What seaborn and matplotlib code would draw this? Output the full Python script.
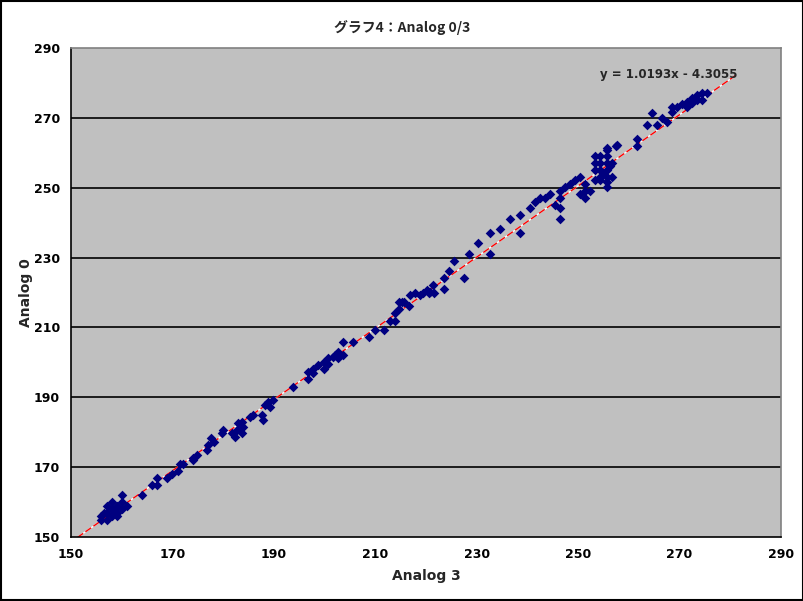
import numpy as np
import pandas as pd
import matplotlib
matplotlib.use("Agg")
import matplotlib.pyplot as plt
import seaborn as sns
from matplotlib.patches import Rectangle

analog3 = [
    156, 156, 157, 157, 158, 157, 158, 159, 159, 160, 160, 161, 160, 158, 159, 156.5, 158.5,
    164, 166, 167, 167, 169, 170, 171, 171.5, 172, 174, 174.1, 174.8,
    176.8, 177.1, 177.7, 178.1, 179.7, 180, 181.7, 182.3, 182.7, 183, 183.7, 183.7, 184, 185.3, 185.9, 187.6, 187.9, 188.3, 188.9, 189.2, 189.9,
    193.8, 196.8, 196.8, 197.8, 197.8, 198.8, 199.8, 199.8, 200.7, 200.7, 201.7, 202.7, 202.7, 203.7, 203.7, 205.7, 202.1, 208.8, 209.9, 211.8, 212.9, 213.9,
    213.9, 214.7, 214.7, 215.7, 216.7, 216.8, 217.8, 218.8, 220.1, 221.4, 221.6, 220.5, 219.5, 223.6, 223.6, 224.6, 225.5, 227.5, 228.5, 230.3, 215.2, 220.8,
    232.6, 232.6, 234.6, 236.6, 238.5, 238.5, 240.5, 241.5, 242.5, 243.5, 244.5, 245.4, 246.4, 246.4, 246.4, 246.4, 247.4, 248.4, 249.4, 250.4, 251.4, 250.4, 251.4, 252.3, 251.4,
    253.3, 253.3, 253.3, 253.3, 254.3, 255.6, 255.6, 254.3, 255.6, 254.3, 255.6, 256.6, 254.3, 255.6, 256.6, 254.3, 255.6, 255.6, 255, 256.3, 257.6, 255.6,
    257.5, 261.6, 261.6, 263.5, 264.5, 265.5, 266.5, 267.5, 268.5, 268.5, 269.4, 270.4, 271.4, 271.4, 272.4, 272.4, 273.4, 273.4, 274.4, 274.4, 275.4,
]
analog0 = [
    156, 155, 157, 155, 156, 159, 158, 157, 159, 158, 160, 159, 162, 160, 156, 157, 157.5,
    162, 165, 165, 167, 167, 168, 169, 171, 171, 172, 172.6, 173.5,
    174.9, 176.3, 178.3, 177.3, 179.7, 180.6, 179.7, 178.7, 180.6, 182.6, 183, 179.7, 181.6, 184.4, 184.9, 184.9, 183.5, 187.8, 188.7, 187.3, 189.2,
    193, 195.1, 197.3, 196.9, 198, 199.2, 198, 200.2, 199.5, 201.2, 201.6, 203.1, 201.2, 202.1, 205.9, 205.9, 202.1, 207.3, 209.3, 209.3, 211.8, 211.8,
    214, 215.2, 217.3, 217.3, 216.1, 219.3, 219.9, 219.3, 220.7, 222.1, 219.9, 219.8, 219.8, 220.9, 224.1, 226.2, 229, 224.1, 230.9, 234.1, 217.4, 220.2,
    236.9, 230.9, 238.1, 241, 237, 242.2, 244.1, 246, 247, 247, 248.1, 245, 244.1, 241, 247, 249.1, 250.3, 251, 252.2, 253.2, 251, 248.1, 249.1, 249.1, 247,
    252.2, 255.1, 257, 259.1, 259.1, 259.1, 260.8, 257, 257, 255.1, 255.1, 257, 253.2, 253.2, 253.2, 252.2, 251.7, 250.3, 254.2, 256.1, 262.2, 261.3,
    261.9, 263.9, 261.9, 268, 271.3, 268, 269.9, 268.9, 273.2, 271.8, 273.2, 273.9, 274.6, 273.2, 275.6, 274.2, 275.1, 276.5, 277, 275.1, 277,
]
slope = 1.0193
intercept = -4.3055
trend_x = [145, 281]
ticks = [150, 170, 190, 210, 230, 250, 270, 290]

df = pd.DataFrame({"Analog 3": analog3, "Analog 0": analog0})

sns.set_style("white")
plt.rcParams["font.family"] = ["DejaVu Sans", "Noto Sans CJK JP"]

fig = plt.figure(figsize=(8.04, 6.01), dpi=100)
ax = fig.add_axes([71 / 804, 1 - 537 / 601, 710 / 804, 489 / 601])
ax.set_facecolor("#C0C0C0")

for t in ticks[1:-1]:
    ax.axhline(t, color="black", lw=1.2, zorder=1)

tx = np.array(trend_x, dtype=float)
ty = slope * tx + intercept
ax.plot(tx, ty, color="white", lw=1, zorder=2)
ax.plot(tx, ty, color="red", lw=1, dashes=(5, 2), zorder=2.5)

sns.scatterplot(data=df, x="Analog 3", y="Analog 0", marker="D", color="#000080",
                s=24, linewidth=0, ax=ax, zorder=3)

ax.set_xlim(150, 290)
ax.set_ylim(150, 290)
ax.set_xticks(ticks)
ax.set_yticks(ticks)
ax.set_xticklabels([str(t) for t in ticks], fontsize=9, fontweight="bold")
ax.set_yticklabels([str(t) for t in ticks], fontsize=9, fontweight="bold")
ax.tick_params(axis="x", direction="in", length=4, width=1, pad=8, colors="black")
ax.tick_params(axis="y", direction="out", length=3, width=1, pad=5, colors="black")
for side in ["left", "bottom"]:
    ax.spines[side].set_color("black")
    ax.spines[side].set_linewidth(1.2)
for side in ["top", "right"]:
    ax.spines[side].set_color("#808080")
    ax.spines[side].set_linewidth(1.2)

ax.set_xlabel("Analog 3", fontsize=10, fontweight="bold")
ax.set_ylabel("Analog 0", fontsize=10, fontweight="bold")
ax.xaxis.set_label_coords(0.5, (537 - 576) / 489, transform=ax.transAxes)
ax.yaxis.set_label_coords((26 - 71) / 710, 0.5, transform=ax.transAxes)
ax.xaxis.label.set_va("center")
ax.yaxis.label.set_va("center")

fig.text(0.5, 1 - 28 / 601, "グラフ4：Analog 0/3", ha="center", va="center",
         fontsize=10, fontweight="bold", family=["Noto Sans CJK JP", "DejaVu Sans"])
ax.text(0.745, 0.946, "y = 1.0193x - 4.3055", transform=ax.transAxes,
        fontsize=8.5, fontweight="bold", ha="left", va="center")

fig.patches.append(Rectangle((0.001, 0.001), 0.998, 0.998, transform=fig.transFigure,
                             fill=False, edgecolor="black", lw=1.5))

fig.savefig("out.png", dpi=100)
